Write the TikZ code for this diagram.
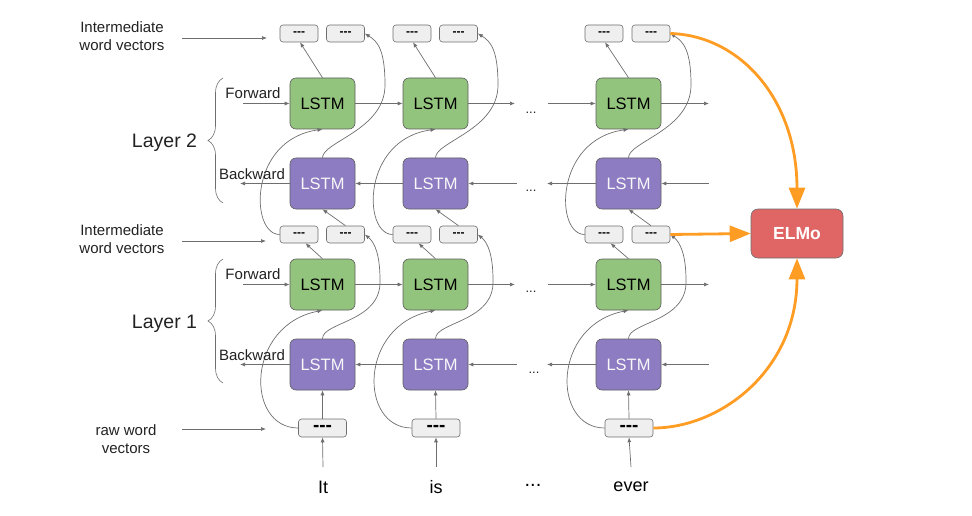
\documentclass[tikz,border=0pt]{standalone}
\usepackage{fontspec}
\setmainfont{Liberation Sans}
\usetikzlibrary{arrows.meta,decorations.pathreplacing,calc}
\definecolor{lgreen}{HTML}{93C47D}
\definecolor{lpurple}{HTML}{8E7CC3}
\definecolor{lred}{HTML}{E06666}
\definecolor{lgray}{HTML}{EFEFEF}
\definecolor{edgec}{HTML}{6E6E6E}
\definecolor{orng}{HTML}{FF9C24}
\definecolor{txt}{HTML}{222222}
\begin{document}
\begin{tikzpicture}[x=1pt,y=-1pt,
  font=\fontsize{15}{18}\selectfont, text=txt,
  lstm/.style={draw=edgec!85!black, line width=0.6pt, rounded corners=6pt,
    minimum width=65pt, minimum height=51pt, inner sep=0pt, font=\fontsize{16.5}{16.5}\selectfont},
  fwd/.style={lstm, fill=lgreen, text=black},
  bwd/.style={lstm, fill=lpurple, text=white!94!gray},
  vec/.style={draw=edgec, line width=0.6pt, fill=lgray, rounded corners=3pt,
    minimum width=38pt, minimum height=17pt, inner sep=0pt, text=black,
    font=\bfseries\fontsize{12}{12}\selectfont},
  rawvec/.style={vec, minimum width=48pt, minimum height=18pt, font=\bfseries\fontsize{19}{19}\selectfont},
  conn/.style={draw=edgec, line width=0.7pt, -{Latex[length=5pt,width=4pt]}},
  dots/.style={font=\fontsize{13}{13}\selectfont, text=txt},
  word/.style={font=\fontsize{18}{18}\selectfont, text=black},
  lab/.style={align=center, inner sep=0pt},
  brc/.style={draw=edgec, line width=0.6pt, decorate, decoration={brace, amplitude=15pt}},
  elmo/.style={draw=edgec, line width=0.6pt, fill=lred, rounded corners=7pt,
    minimum width=92pt, minimum height=49pt, inner sep=0pt, text=white,
    font=\bfseries\fontsize{17.5}{17.5}\selectfont},
  orangearrow/.style={draw=orng, line width=2.8pt, -{Triangle[length=21pt 0 0,width=16pt 0 0]}}
]
\useasboundingbox (0,0) rectangle (972,516);

% columns
\foreach \i/\cx/\l/\r/\rx/\w/\wx in {1/322.5/299/345.5/322.5/It/323, 2/435.5/412/458.5/436/is/436, 3/628.5/604/651/629/ever/631}{
  \node[fwd] (F2\i) at (\cx,103.5) {LSTM};
  \node[bwd] (B2\i) at (\cx,183.5) {LSTM};
  \node[fwd] (F1\i) at (\cx,284.5) {LSTM};
  \node[bwd] (B1\i) at (\cx,364.5) {LSTM};
  \node[vec] (TL\i) at (\l,33.5) {-{}-{}-};
  \node[vec] (TR\i) at (\r,33.5) {-{}-{}-};
  \node[vec] (ML\i) at (\l,234.5) {-{}-{}-};
  \node[vec] (MR\i) at (\r,234.5) {-{}-{}-};
  \node[rawvec] (R\i) at (\rx,428) {-{}-{}-};
  \node[word] (W\i) at (\wx,487) {\w};
  \coordinate (WA\i) at (\wx,467);
  \coordinate (P1\i) at (\cx+57.5,280);
  \coordinate (P2\i) at (\cx+62.5,85);
  % word -> raw
  \draw[conn] (WA\i) -- (R\i.south);
  % layer 1
  \draw[conn] (R\i.north) -- (B1\i.south);
  \draw[conn] (R\i.west) .. controls +(-53,0) and +(-77,15) .. (F1\i.south);
  \draw[conn] (F1\i.north) -- ([xshift=6.5pt]ML\i.south);
  \draw[conn] (B1\i.north) .. controls +(0,-17) and +(2,42) .. (P1\i)
     .. controls +(0,-25) and +(10,8) .. (MR\i.east);
  % layer 2
  \draw[conn] (ML\i.west) .. controls +(-30,0) and +(-74,10) .. (F2\i.south);
  \draw[conn] (MR\i.north) -- (B2\i.south);
  \draw[conn] (F2\i.north) -- ([xshift=1pt]TL\i.south);
  \draw[conn] (B2\i.north) .. controls +(0,-16) and +(0,45) .. (P2\i)
     .. controls +(0,-35) and +(13,8) .. (TR\i.east);
}

% row connectors
\foreach \k/\fy/\by in {2/103.5/183.5, 1/284.5/364.5}{
  \coordinate (fin\k) at (243,\fy);
  \coordinate (fa\k) at (515,\fy);
  \coordinate (fb\k) at (548,\fy);
  \coordinate (fout\k) at (709,\fy);
  \coordinate (bin\k) at (709,\by);
  \coordinate (ba\k) at (547,\by);
  \coordinate (bb\k) at (517,\by);
  \coordinate (bout\k) at (240,\by);
  \draw[conn] (fin\k) -- (F\k1.west);
  \draw[conn] (F\k1.east) -- (F\k2.west);
  \draw[conn] (F\k2.east) -- (fa\k);
  \draw[conn] (fb\k) -- (F\k3.west);
  \draw[conn] (F\k3.east) -- (fout\k);
  \draw[conn] (bin\k) -- (B\k3.east);
  \draw[conn] (B\k3.west) -- (ba\k);
  \draw[conn] (bb\k) -- (B\k2.east);
  \draw[conn] (B\k2.west) -- (B\k1.east);
  \draw[conn] (B\k1.west) -- (bout\k);
}

% dots
\node[dots] (d1) at (531,113) {...};
\node[dots] (d2) at (531,191) {...};
\node[dots] (d3) at (531,292) {...};
\node[dots] (d4) at (534,373) {...};
\node[word, font=\fontsize{20}{20}\selectfont] (d5) at (533,485) {...};

% left labels
\node[lab] (IT) at (122,36) {Intermediate\\word vectors};
\node[lab] (IM) at (122,239) {Intermediate\\word vectors};
\node[lab] (RW) at (126,439.5) {raw word\\vectors};
\coordinate (ITa) at (182,38);  \coordinate (ITb) at (267,38);
\coordinate (IMa) at (182,241); \coordinate (IMb) at (266,241);
\coordinate (RWa) at (182,429); \coordinate (RWb) at (266,429);
\draw[conn] (ITa) -- (ITb);
\draw[conn] (IMa) -- (IMb);
\draw[conn] (RWa) -- (RWb);

\node (fw2) at (253,93) {Forward};
\node (bw2) at (252,174) {Backward};
\node (fw1) at (253,274) {Forward};
\node (bw1) at (252,355) {Backward};

\node[font=\fontsize{19.5}{19.5}\selectfont] (L2) at (164.5,143) {Layer 2};
\node[font=\fontsize{19.5}{19.5}\selectfont] (L1) at (164.5,324) {Layer 1};
\draw[brc] (223,203) -- (223,78);
\draw[brc] (223,383) -- (223,259);

% ELMo
\node[elmo] (E) at (797,233.5) {ELMo};
\draw[orangearrow] (TR3.east) .. controls +(70,2) and +(0,-109) .. (E.north);
\draw[orangearrow] (MR3.east) -- (E.west);
\draw[orangearrow] (R3.east) .. controls +(67,0) and +(0,112) .. (E.south);
\end{tikzpicture}
\end{document}
